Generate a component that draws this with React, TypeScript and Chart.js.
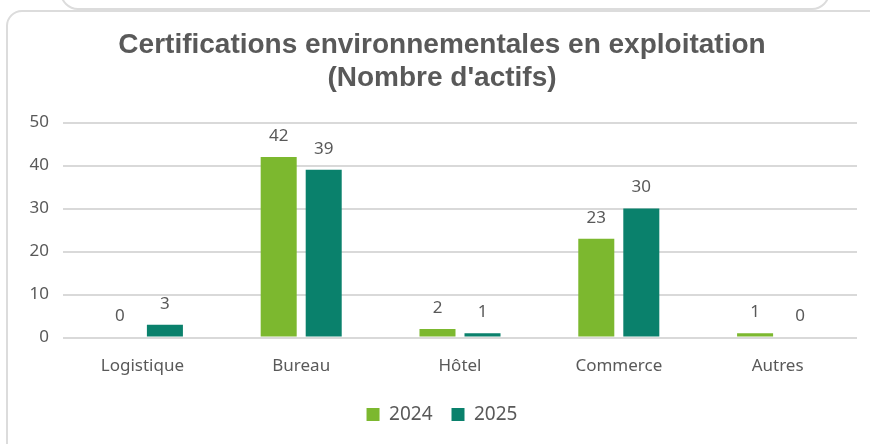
import React, { useEffect, useRef } from "react";
import { Chart, registerables } from "chart.js";

Chart.register(...registerables);

const categories = ["Logistique", "Bureau", "Hôtel", "Commerce", "Autres"];
const values2024 = [0, 42, 2, 23, 1];
const values2025 = [3, 39, 1, 30, 0];
const seriesLabels = ["2024", "2025"];
const titleLines = ["Certifications environnementales en exploitation", "(Nombre d'actifs)"];

const TEXT = "#595959";
const FONT = "'Noto Sans', 'Open Sans', sans-serif";

const valueLabels = {
  id: "valueLabels",
  afterDatasetsDraw(chart: any) {
    const ctx = chart.ctx;
    ctx.save();
    ctx.fillStyle = TEXT;
    ctx.font = `17px ${FONT}`;
    ctx.textAlign = "center";
    ctx.textBaseline = "middle";
    chart.data.datasets.forEach((ds: any, di: number) => {
      const meta = chart.getDatasetMeta(di);
      meta.data.forEach((el: any, i: number) => {
        ctx.fillText(String(ds.data[i]), el.x, el.y - 21);
      });
    });
    ctx.restore();
  },
};

export default function App() {
  const ref = useRef<HTMLCanvasElement>(null);
  useEffect(() => {
    document.body.style.margin = "0";
    const chart = new Chart(ref.current!, {
      type: "bar",
      data: {
        labels: categories,
        datasets: [
          {
            label: seriesLabels[0],
            data: values2024,
            backgroundColor: "#7cb82f",
            categoryPercentage: 0.567,
            barPercentage: 0.8,
          },
          {
            label: seriesLabels[1],
            data: values2025,
            backgroundColor: "#0a816c",
            categoryPercentage: 0.567,
            barPercentage: 0.8,
          },
        ],
      },
      options: {
        animation: false,
        responsive: false,
        layout: { padding: { left: 27, right: 13, top: 0, bottom: 10 } },
        plugins: {
          title: {
            display: true,
            text: titleLines,
            color: TEXT,
            font: { family: "'Liberation Sans', Arial, sans-serif", size: 28, weight: "bold", lineHeight: 1.17 },
            padding: { top: 29, bottom: 28 },
          },
          legend: {
            position: "bottom",
            labels: {
              color: TEXT,
              font: { family: FONT, size: 19 },
              boxWidth: 13,
              boxHeight: 13,
              padding: 19,
            },
          },
          tooltip: { enabled: false },
        },
        scales: {
          x: {
            grid: { display: false },
            border: { display: false },
            ticks: { color: TEXT, font: { family: FONT, size: 17 }, padding: 10 },
          },
          y: {
            min: 0,
            max: 50,
            ticks: { stepSize: 10, color: TEXT, font: { family: FONT, size: 17 }, padding: 14 },
            grid: { color: "#d9d9d9", lineWidth: 2, drawTicks: false },
            border: { display: false },
            afterFit(scale: any) {
              scale.width = 36;
            },
          },
        },
      },
      plugins: [valueLabels],
    });
    return () => chart.destroy();
  }, []);
  return (
    <div style={{ position: "relative", width: 870, height: 444, overflow: "hidden", background: "#fff" }}>
      <div
        style={{
          position: "absolute",
          left: 60,
          top: -40,
          width: 766,
          height: 46,
          border: "2px solid #dcdcdc",
          borderRadius: 18,
        }}
      />
      <div
        style={{
          position: "absolute",
          left: 6,
          top: 10,
          width: 880,
          height: 450,
          border: "2px solid #dcdcdc",
          borderRadius: 16,
        }}
      />
      <canvas ref={ref} width={870} height={444} style={{ position: "absolute", left: 0, top: 0 }} />
    </div>
  );
}
